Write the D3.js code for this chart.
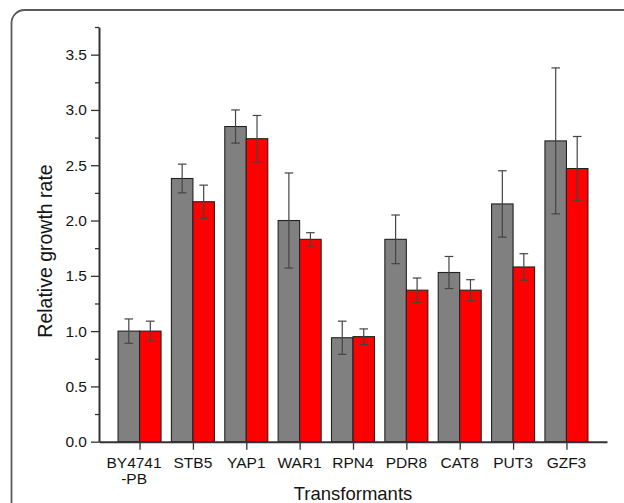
<!DOCTYPE html>
<html>
<head>
<meta charset="utf-8">
<script src="https://cdn.jsdelivr.net/npm/d3@7"></script>
<style>
  body { margin: 0; background: #fff; }
  svg { display: block; font-family: "Liberation Sans", Arial, sans-serif; }
</style>
</head>
<body>
<script>
const w = 624;
const h = 503;

// data
const categories = ["BY4741-PB", "STB5", "YAP1", "WAR1", "RPN4", "PDR8", "CAT8", "PUT3", "GZF3"];
const categoryLines = [["BY4741", "-PB"], ["STB5"], ["YAP1"], ["WAR1"], ["RPN4"], ["PDR8"], ["CAT8"], ["PUT3"], ["GZF3"]];
const series = ["gray", "red"];
const grayValues = [1.00, 2.38, 2.85, 2.00, 0.94, 1.83, 1.53, 2.15, 2.72];
const grayErrors = [0.11, 0.13, 0.15, 0.43, 0.15, 0.22, 0.145, 0.30, 0.66];
const redValues = [1.00, 2.17, 2.74, 1.83, 0.95, 1.37, 1.37, 1.58, 2.47];
const redErrors = [0.09, 0.15, 0.21, 0.06, 0.07, 0.11, 0.095, 0.12, 0.29];
const majorTicks = [0, 0.5, 1.0, 1.5, 2.0, 2.5, 3.0, 3.5];
const minorTicks = [0.25, 0.75, 1.25, 1.75, 2.25, 2.75, 3.25, 3.75];

const colors = { gray: "#808080", red: "#ff0000" };
const textColor = "#151515";

const svg = d3.select("body")
    .append("svg")
    .attr("width", w)
    .attr("height", h);

// rounded frame around the figure
svg.append("rect")
    .attr("x", 11.5)
    .attr("y", 10)
    .attr("width", 640)
    .attr("height", 520)
    .attr("rx", 13)
    .attr("fill", "none")
    .attr("stroke", "#5a5a5a")
    .attr("stroke-width", 1.8);

const plotLeft = 99, plotRight = 607, plotTop = 27, plotBottom = 441.7;

const xScale = d3.scalePoint()
    .domain(categories)
    .range([plotLeft, plotRight])
    .padding(0.76);

const xInner = d3.scaleBand()
    .domain(series)
    .range([-21.5, 21.5]);

const yScale = d3.scaleLinear()
    .domain([0, 3.75])
    .range([plotBottom, plotTop]);

const rows = categories.map((c, i) => ({
    cat: c,
    bars: [
        { s: "gray", v: grayValues[i], e: grayErrors[i] },
        { s: "red", v: redValues[i], e: redErrors[i] }
    ]
}));

const groups = svg.selectAll("g.group")
    .data(rows)
    .enter()
    .append("g")
    .attr("class", "group")
    .attr("transform", d => "translate(" + xScale(d.cat) + ",0)");

groups.selectAll("rect")
    .data(d => d.bars)
    .enter()
    .append("rect")
    .attr("x", d => xInner(d.s))
    .attr("y", d => yScale(d.v))
    .attr("width", xInner.bandwidth())
    .attr("height", d => yScale(0) - yScale(d.v))
    .attr("fill", d => colors[d.s])
    .attr("stroke", "#222")
    .attr("stroke-width", 1.1);

// error bars
const err = groups.selectAll("g.err")
    .data(d => d.bars)
    .enter()
    .append("g")
    .attr("class", "err")
    .attr("stroke", "#444")
    .attr("stroke-width", 1.2);

const cx = d => xInner(d.s) + xInner.bandwidth() / 2;

err.append("line")
    .attr("x1", cx).attr("x2", cx)
    .attr("y1", d => yScale(d.v + d.e))
    .attr("y2", d => yScale(d.v - d.e));

err.append("line")
    .attr("x1", d => cx(d) - 4.3).attr("x2", d => cx(d) + 4.3)
    .attr("y1", d => yScale(d.v + d.e))
    .attr("y2", d => yScale(d.v + d.e));

err.append("line")
    .attr("x1", d => cx(d) - 4.3).attr("x2", d => cx(d) + 4.3)
    .attr("y1", d => yScale(d.v - d.e))
    .attr("y2", d => yScale(d.v - d.e));

// y axis
const yAxis = d3.axisLeft(yScale)
    .tickValues(majorTicks)
    .tickFormat(d3.format(".1f"))
    .tickSize(8)
    .tickPadding(4)
    .tickSizeOuter(0);

const yg = svg.append("g")
    .attr("transform", "translate(" + plotLeft + ",0)")
    .call(yAxis);

svg.append("g")
    .attr("transform", "translate(" + plotLeft + ",0)")
    .call(d3.axisLeft(yScale).tickValues(minorTicks).tickSize(4).tickFormat("").tickSizeOuter(0))
    .call(g => g.select(".domain").remove())
    .selectAll("line").attr("stroke", "#333").attr("stroke-width", 1.3);

yg.select(".domain").attr("stroke", "#333").attr("stroke-width", 2);
yg.selectAll(".tick line").attr("stroke", "#333").attr("stroke-width", 1.3);
yg.selectAll(".tick text")
    .attr("font-size", "15.5px")
    .attr("fill", textColor)
    .attr("font-family", "'Liberation Sans', Arial, sans-serif");

// x axis
const xAxis = d3.axisBottom(xScale)
    .tickSize(8)
    .tickSizeOuter(0)
    .tickFormat("");

const xg = svg.append("g")
    .attr("transform", "translate(0," + plotBottom + ")")
    .call(xAxis);

xg.select(".domain").attr("stroke", "#333").attr("stroke-width", 2);
xg.selectAll(".tick line").attr("stroke", "#333").attr("stroke-width", 1.3);

const xLabels = svg.append("g")
    .attr("font-size", "15.5px")
    .attr("fill", textColor)
    .attr("text-anchor", "middle");

categories.forEach((c, i) => {
    const lines = categoryLines[i];
    lines.forEach((line, j) => {
        xLabels.append("text")
            .attr("x", xScale(c))
            .attr("dx", lines.length > 1 ? -5.5 : 0)
            .attr("y", 467.5 + j * 16)
            .text(line);
    });
});

// axis titles
svg.append("text")
    .attr("x", (plotLeft + plotRight) / 2)
    .attr("y", 499.5)
    .attr("text-anchor", "middle")
    .attr("font-size", "18.5px")
    .attr("fill", textColor)
    .text("Transformants");

svg.append("text")
    .attr("transform", "translate(51.5," + 251 + ") rotate(-90)")
    .attr("text-anchor", "middle")
    .attr("font-size", "19.5px")
    .attr("fill", textColor)
    .text("Relative growth rate");
</script>
</body>
</html>
